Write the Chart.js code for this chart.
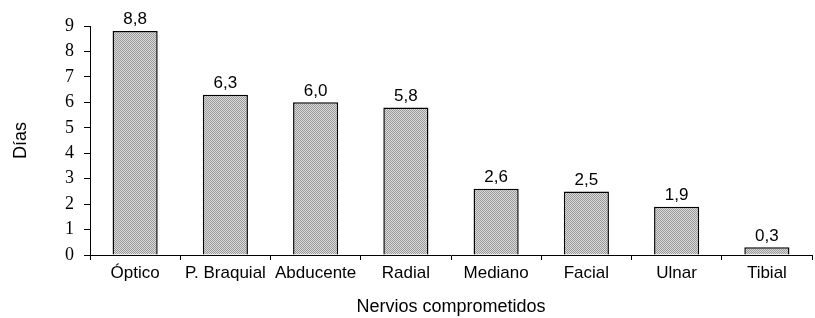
<!DOCTYPE html>
<html>
<head>
<meta charset="utf-8">
<script src="https://cdn.jsdelivr.net/npm/chart.js@4.4.0/dist/chart.umd.min.js"></script>
<style>
  html, body { margin: 0; padding: 0; background: #fff; overflow: hidden; }
  #chart { display: block; }
</style>
</head>
<body>
<canvas id="chart" width="815" height="318"></canvas>
<script>
// data
const nervios = ['Óptico', 'P. Braquial', 'Abducente', 'Radial', 'Mediano', 'Facial', 'Ulnar', 'Tibial'];
const dias = [8.8, 6.3, 6.0, 5.8, 2.6, 2.5, 1.9, 0.3];
const yTicks = [0, 1, 2, 3, 4, 5, 6, 7, 8, 9];

// grey hatch like the original
function makeHatch() {
  const c = document.createElement('canvas');
  c.width = 2; c.height = 2;
  const g = c.getContext('2d');
  g.fillStyle = '#dadada';
  g.fillRect(0, 0, 2, 2);
  g.fillStyle = '#9a9a9a';
  g.fillRect(0, 0, 1, 1);
  g.fillRect(1, 1, 1, 1);
  return g.createPattern(c, 'repeat');
}

const valueLabels = {
  id: 'valueLabels',
  afterDatasetsDraw(chart) {
    const ctx = chart.ctx;
    const meta = chart.getDatasetMeta(0);
    ctx.save();
    ctx.font = '17px "Liberation Sans", Arial, sans-serif';
    ctx.fillStyle = '#000';
    ctx.textAlign = 'center';
    ctx.textBaseline = 'bottom';
    meta.data.forEach((bar, i) => {
      ctx.fillText(dias[i].toFixed(1).replace('.', ','), bar.x, bar.y - 3);
    });
    ctx.restore();
  }
};

new Chart(document.getElementById('chart'), {
  type: 'bar',
  data: {
    labels: nervios,
    datasets: [{
      data: dias,
      backgroundColor: makeHatch(),
      borderColor: '#000',
      borderWidth: 1.5,
      borderSkipped: 'bottom',
      barPercentage: 0.5,
      categoryPercentage: 1
    }]
  },
  options: {
    responsive: false,
    animation: false,
    devicePixelRatio: 1,
    layout: { padding: { top: 26, left: 10, right: 3, bottom: 0 } },
    plugins: { legend: { display: false }, tooltip: { enabled: false } },
    scales: {
      x: {
        grid: { display: true, drawOnChartArea: false, offset: true, tickLength: 5, color: '#000' },
        border: { color: '#000', width: 1 },
        ticks: { color: '#000', padding: 3, autoSkip: false, maxRotation: 0,
                 font: { family: '"Liberation Sans", Arial, sans-serif', size: 17 } },
        title: { display: true, text: 'Nervios comprometidos', color: '#000', padding: { top: 10, bottom: 0 },
                 font: { family: '"Liberation Sans", Arial, sans-serif', size: 18 } }
      },
      y: {
        min: 0, max: 9,
        afterBuildTicks(scale) { scale.ticks = yTicks.map(v => ({ value: v })); },
        afterFit(scale) { scale.width = 80; },
        grid: { display: true, drawOnChartArea: false, tickLength: 6, color: '#000' },
        border: { color: '#000', width: 1 },
        ticks: { color: '#000', padding: 10, autoSkip: false,
                 font: { family: '"Liberation Serif", "Times New Roman", serif', size: 18 } },
        title: { display: true, text: 'Días', color: '#000', padding: 0,
                 font: { family: '"Liberation Sans", Arial, sans-serif', size: 18 } }
      }
    }
  },
  plugins: [valueLabels]
});
</script>
</body>
</html>
